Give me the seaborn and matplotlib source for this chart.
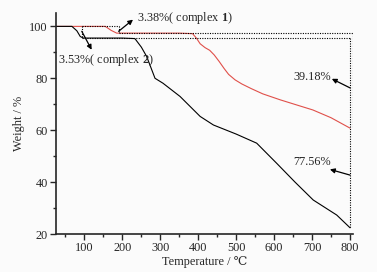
import numpy as np
import pandas as pd
import matplotlib
matplotlib.use("Agg")
import matplotlib.pyplot as plt
from matplotlib.ticker import MultipleLocator
import seaborn as sns

# data
temp_c1 = [25, 100, 155, 170, 185, 250, 300, 350, 385, 395, 405, 418, 430, 442,
           455, 468, 480, 497, 515, 540, 570, 616, 660, 702, 750, 800]
weight_c1 = [100, 100, 100, 98.5, 97.4, 97.4, 97.4, 97.4, 97.2, 95.5, 93.3, 91.8,
             90.8, 89.0, 86.5, 83.8, 81.5, 79.4, 77.8, 76.0, 74.0, 71.7, 69.7,
             67.8, 64.8, 60.8]
temp_c2 = [25, 67, 80, 89, 97, 150, 200, 233, 250, 264, 286, 307, 352, 405, 440,
           500, 554, 607, 655, 703, 765, 800]
weight_c2 = [100, 100, 98.3, 96.1, 95.5, 95.5, 95.5, 95.3, 92.0, 88.4, 80.0, 78.1,
             73.0, 65.3, 62.0, 58.5, 55.0, 47.2, 40.0, 33.1, 27.3, 22.4]

plateau_c1 = 97.4
plateau_c2 = 95.5
step_c1 = 190   # temperature of first mass-loss marker, complex 1
step_c2 = 93    # temperature of first mass-loss marker, complex 2
end_c1 = 808
end_c2 = 800

df = pd.concat([
    pd.DataFrame({"T": temp_c1, "W": weight_c1, "s": "complex 1"}),
    pd.DataFrame({"T": temp_c2, "W": weight_c2, "s": "complex 2"}),
])

sns.set_style("ticks")
plt.rcParams["font.family"] = ["Liberation Serif", "DejaVu Serif"]
plt.rcParams["mathtext.fontset"] = "custom"
plt.rcParams["mathtext.rm"] = "Liberation Serif"
plt.rcParams["mathtext.bf"] = "Liberation Serif:bold"

bg = "#fbfbfb"
fig = plt.figure(figsize=(3.77, 2.72), dpi=100, facecolor=bg)
ax = fig.add_axes([0.1485, 0.1397, 0.788, 0.811], facecolor=bg)

sns.lineplot(data=df, x="T", y="W", hue="s", palette={"complex 1": "#e0504a", "complex 2": "black"},
             linewidth=0.8, legend=False, ax=ax, sort=False)

# dotted guide lines
dot = dict(color="black", linestyle=(0, (1, 1.2)), linewidth=0.8)
ax.plot([step_c2, step_c1], [100, 100], **dot)
ax.plot([step_c2, step_c2], [100, plateau_c2], **dot)
ax.plot([step_c1, step_c1], [100, plateau_c1], **dot)
ax.plot([step_c1, end_c1], [plateau_c1, plateau_c1], **dot)
ax.plot([step_c2, end_c2], [plateau_c2, plateau_c2], **dot)
ax.plot([end_c1, end_c1], [plateau_c1, weight_c1[-1]], **dot)
ax.plot([end_c2, end_c2], [plateau_c2, weight_c2[-1]], **dot)

fs = 8.8
arr = dict(arrowstyle="-|>", color="black", lw=0.9, mutation_scale=7, shrinkA=0, shrinkB=0)
ax.text(238, 103.3, r"3.38%( complex $\mathbf{1}$)", fontsize=fs, va="center", ha="left")
ax.annotate("", xy=(228, 102.6), xytext=(step_c1, 98.1), arrowprops=arr)
ax.text(31, 87.1, r"3.53%( complex $\mathbf{2}$)", fontsize=fs, va="center", ha="left")
ax.annotate("", xy=(119, 91), xytext=(step_c2, 98.1), arrowprops=arr)
ax.text(650, 80.5, "39.18%", fontsize=fs, va="center", ha="left")
ax.annotate("", xy=(752, 79.8), xytext=(end_c2, 76.3), arrowprops=arr)
ax.text(650, 47.9, "77.56%", fontsize=fs, va="center", ha="left")
ax.annotate("", xy=(747, 44.9), xytext=(end_c2, 42.7), arrowprops=arr)

ax.set_xlim(25, 808)
ax.set_ylim(20, 105)
ax.xaxis.set_major_locator(MultipleLocator(100))
ax.xaxis.set_minor_locator(MultipleLocator(50))
ax.yaxis.set_major_locator(MultipleLocator(20))
ax.yaxis.set_minor_locator(MultipleLocator(10))
ax.set_xticks(range(100, 801, 100))
ax.tick_params(which="major", direction="out", length=4, width=1, labelsize=fs, pad=2)
ax.tick_params(which="minor", direction="out", length=2.5, width=1)
sns.despine(ax=ax)
for sp in ["left", "bottom"]:
    ax.spines[sp].set_linewidth(1.2)

ax.set_xlabel("Temperature / ℃", fontsize=fs, labelpad=1)
ax.set_ylabel("Weight / %", fontsize=fs, labelpad=3)

fig.savefig("out.png", dpi=100, facecolor=bg)
